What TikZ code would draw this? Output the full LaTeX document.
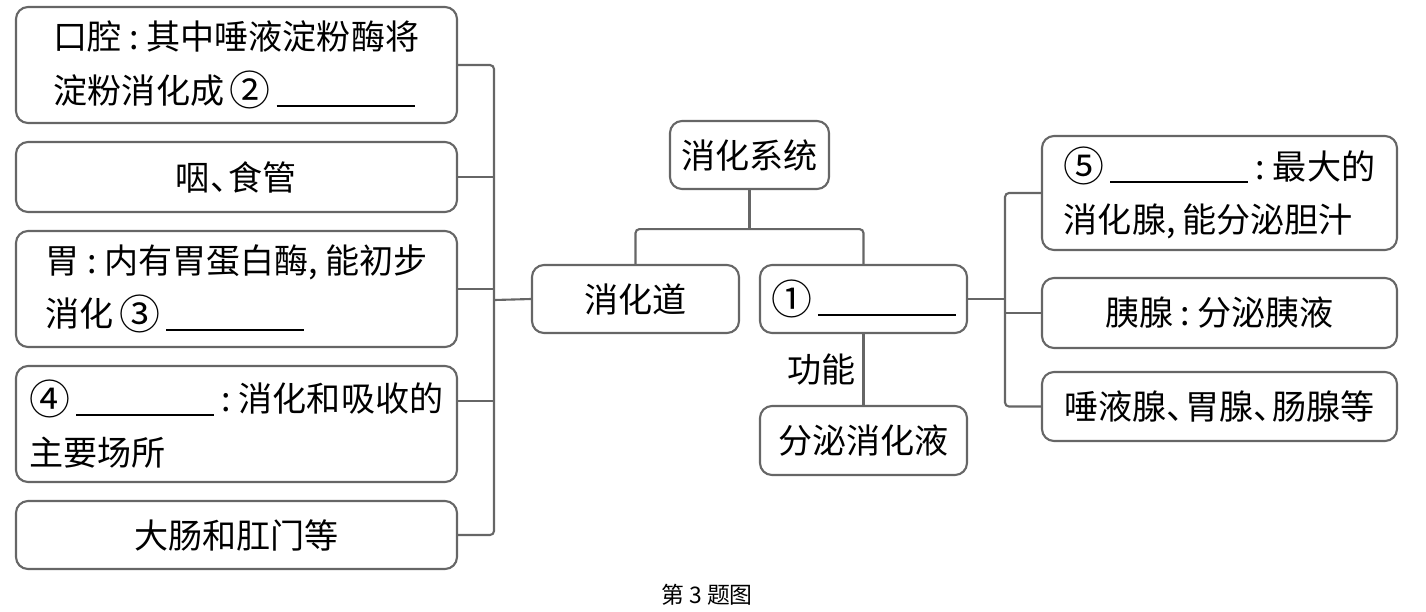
\documentclass[tikz,border=0pt]{standalone}
\usepackage{fontspec}
\setmainfont{Noto Sans CJK SC}
\newcommand{\blank}{\rule[-0.12em]{1.38cm}{0.5pt}}
\newcommand{\colonmark}{\hspace{0.22em}:\hspace{0.22em}}
\newcommand{\commamark}{,\hspace{0.2em}}
\newcommand{\dunmark}{、\hspace{-0.45em}}
\newcommand{\circnum}[1]{\raisebox{-0.08em}{\scalebox{1.2}{#1}}}
\begin{document}
\begin{tikzpicture}[
  box/.style={draw=black!60, line width=0.6pt, rounded corners=1.2mm, inner sep=0pt, align=left, font=\fontsize{9.7}{15.2}\selectfont},
  link/.style={draw=black!60, line width=0.6pt, rounded corners=0.4mm}
]
\useasboundingbox (0,0) rectangle (14.26,-6.11);
\coordinate (lbus) at (4.94,-3.00);
\coordinate (rbus) at (10.05,-2.99);
\node [box, minimum width=4.41cm, minimum height=1.16cm] (mouth) at (2.365,-0.65) {口腔\colonmark 其中唾液淀粉酶将\\淀粉消化成\,\circnum{②}\,\blank};
\node [box, minimum width=4.41cm, minimum height=0.70cm] (pharynx) at (2.365,-1.77) {咽\dunmark 食管};
\node [box, minimum width=4.41cm, minimum height=1.16cm] (stomach) at (2.365,-2.89) {胃\colonmark 内有胃蛋白酶\commamark 能初步\\消化\,\circnum{③}\,\blank};
\node [box, minimum width=4.41cm, minimum height=1.16cm] (intestine) at (2.365,-4.24) {\circnum{④}\,\blank\colonmark 消化和吸收的\\主要场所};
\node [box, minimum width=4.41cm, minimum height=0.68cm] (rectum) at (2.365,-5.35) {大肠和肛门等};
\node [box, minimum width=1.59cm, minimum height=0.68cm] (system) at (7.495,-1.55) {消化系统};
\node [box, minimum width=2.07cm, minimum height=0.68cm] (tract) at (6.355,-2.99) {消化道};
\node [box, minimum width=2.07cm, minimum height=0.68cm] (glands) at (8.635,-2.99) {\circnum{①}\,\blank};
\node [box, minimum width=2.07cm, minimum height=0.69cm] (secrete) at (8.635,-4.405) {分泌消化液};
\node [box, minimum width=3.55cm, minimum height=1.14cm] (liver) at (12.195,-1.93) {\circnum{⑤}\,\blank\colonmark 最大的\\消化腺\commamark 能分泌胆汁};
\node [box, minimum width=3.55cm, minimum height=0.70cm] (pancreas) at (12.195,-3.13) {胰腺\colonmark 分泌胰液};
\node [box, minimum width=3.55cm, minimum height=0.69cm] (others) at (12.195,-4.065) {唾液腺\dunmark 胃腺\dunmark 肠腺等};
\node [font=\fontsize{6.5}{8}\selectfont] (caption) at (7.07,-5.95) {第 3 题图};
\draw [link] (mouth.east) -| (lbus) |- (rectum.east);
\draw [link] (pharynx.east) -- (pharynx.east -| lbus);
\draw [link] (stomach.east) -- (stomach.east -| lbus);
\draw [link] ([yshift=0.23cm]intestine.east) -- ([yshift=0.23cm]intestine.east -| lbus);
\draw [link] (lbus) -- (tract.west);
\draw [link] (system.south) -- ++(0,-0.39) coordinate (fork);
\draw [link] (tract.north) |- (fork) -| (glands.north);
\draw [link] (glands.south) -- node [left, font=\fontsize{9.7}{12}\selectfont, inner sep=2pt] (function) {功能} (secrete.north);
\draw [link] (liver.west) -| (rbus) |- (others.west);
\draw [link] (pancreas.west) -- (pancreas.west -| rbus);
\draw [link] (glands.east) -- (glands.east -| rbus);
\end{tikzpicture}
\end{document}
